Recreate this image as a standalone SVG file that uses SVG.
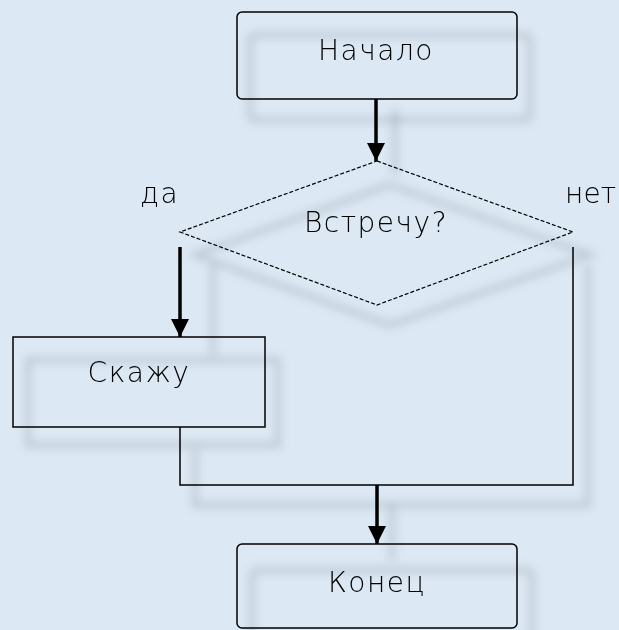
<svg xmlns="http://www.w3.org/2000/svg" width="619" height="630" viewBox="0 0 619 630">
<defs>
<filter id="blur" x="-20%" y="-20%" width="140%" height="140%"><feGaussianBlur stdDeviation="4"/></filter>
<marker id="ah" viewBox="0 0 10 10" refX="10" refY="5" markerWidth="20" markerHeight="18" markerUnits="userSpaceOnUse" orient="auto"><path d="M0,0 L10,5 L0,10 Z" fill="#000"/></marker>
</defs>
<style>
.box{fill:none;stroke:#000;stroke-width:1.5}
.dash{fill:none;stroke:#000;stroke-width:1.2;stroke-dasharray:4,2}
.lbl{font-family:"DejaVu Sans","Liberation Sans",sans-serif;font-weight:200;font-size:28px;fill:#000;letter-spacing:1.5px}
.thin{fill:none;stroke:#000;stroke-width:1.5}
.thick{fill:none;stroke:#000;stroke-width:3.5}
.sh{fill:none;stroke:#6a7a88;stroke-width:5;opacity:0.3}
</style>
<rect x="0" y="0" width="619" height="630" fill="#dce8f3"/>
<g id="shadows" filter="url(#blur)">
<rect class="sh" x="250" y="35" width="280" height="85" rx="5"/>
<polygon class="sh" points="390,185 590,255 390,325 195,255"/>
<rect class="sh" x="28" y="360" width="250" height="85"/>
<polyline class="sh" points="195,450 195,505 588,505 588,265"/>
<rect class="sh" x="252" y="570" width="280" height="80" rx="5"/>
<line class="sh" x1="395" y1="110" x2="395" y2="175"/>
<line class="sh" x1="213" y1="265" x2="213" y2="355"/>
<line class="sh" x1="392" y1="505" x2="392" y2="560"/>
</g>
<g id="start">
<rect class="box" x="237" y="12" width="280" height="87" rx="5"/>
<text class="lbl" x="376" y="60" text-anchor="middle">Начало</text>
</g>
<g id="decision">
<polygon class="dash" points="377,161 573,232 377,305 180,232"/>
<text class="lbl" x="376" y="232" text-anchor="middle">Встречу?</text>
</g>
<g id="say">
<rect class="box" x="13" y="337" width="252" height="90"/>
<text class="lbl" x="139" y="382" text-anchor="middle">Скажу</text>
</g>
<g id="end">
<rect class="box" x="237" y="544" width="280" height="84" rx="5"/>
<text class="lbl" x="377" y="592" text-anchor="middle">Конец</text>
</g>
<g id="connectors">
<line class="thick" x1="376" y1="99" x2="376" y2="161" marker-end="url(#ah)"/>
<line class="thick" x1="180" y1="247" x2="180" y2="337" marker-end="url(#ah)"/>
<polyline class="thin" points="180,427 180,485 573,485 573,247"/>
<line class="thick" x1="377" y1="485" x2="377" y2="544" marker-end="url(#ah)"/>
<text class="lbl" x="140" y="203">да</text>
<text class="lbl" x="616" y="203" text-anchor="end" style="letter-spacing:0">нет</text>
</g>
</svg>
